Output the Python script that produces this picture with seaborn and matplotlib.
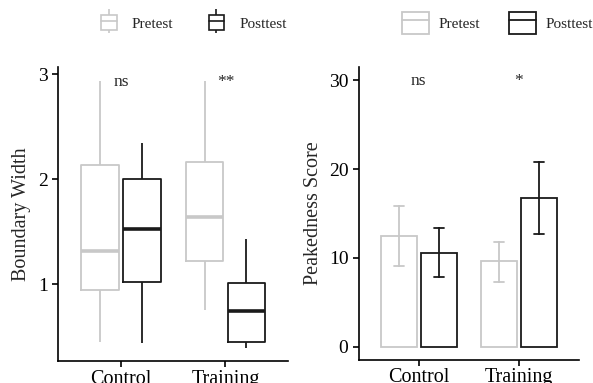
import numpy as np
import pandas as pd
import seaborn as sns
import matplotlib.pyplot as plt
from matplotlib.lines import Line2D
from matplotlib.patches import Patch
from matplotlib.legend_handler import HandlerTuple

# data
groups = ["Control", "Training"]
times = ["Pretest", "Posttest"]

# boundary width: [low whisker, Q1, median, Q3, high whisker]
bw_control_pre = [0.45, 0.94, 1.32, 2.14, 2.94]
bw_control_post = [0.44, 1.02, 1.53, 2.00, 2.35]
bw_training_pre = [0.75, 1.22, 1.64, 2.16, 2.94]
bw_training_post = [0.39, 0.45, 0.74, 1.01, 1.43]

# peakedness: [lower error, mean, upper error]
pk_control_pre = [9.1, 12.5, 15.8]
pk_control_post = [7.8, 10.6, 13.4]
pk_training_pre = [7.3, 9.6, 11.8]
pk_training_post = [12.7, 16.8, 20.8]

sig_bw = ["ns", "**"]
sig_pk = ["ns", "*"]

grey = "#c8c8c8"
dark = "#1a1a1a"
pal = {"Pretest": grey, "Posttest": dark}

rows = []
for g, t, vals in [("Control", "Pretest", bw_control_pre), ("Control", "Posttest", bw_control_post),
                   ("Training", "Pretest", bw_training_pre), ("Training", "Posttest", bw_training_post)]:
    for v in vals:
        rows.append({"group": g, "time": t, "value": v})
bw = pd.DataFrame(rows)

rows = []
for g, t, vals in [("Control", "Pretest", pk_control_pre), ("Control", "Posttest", pk_control_post),
                   ("Training", "Pretest", pk_training_pre), ("Training", "Posttest", pk_training_post)]:
    for v in vals:
        rows.append({"group": g, "time": t, "value": v})
pk = pd.DataFrame(rows)

sns.set_style("ticks")
plt.rcParams["font.family"] = ["Liberation Serif", "DejaVu Serif"]

fig = plt.figure(figsize=(5.93, 3.83), dpi=100)
ax1 = fig.add_axes([0.098, 0.057, 0.388, 0.768])
ax2 = fig.add_axes([0.605, 0.060, 0.371, 0.765])

# left: boxplots
sns.boxplot(data=bw, x="group", y="value", hue="time", order=groups, hue_order=times,
            palette=pal, fill=False, width=0.8, gap=0.1, whis=(0, 100), showcaps=False,
            linewidth=1.3, medianprops={"linewidth": 2.6}, legend=False, ax=ax1)
for i, s in enumerate(sig_bw):
    ax1.text(i, 2.93, s, ha="center", va="center", fontsize=12.5)
ax1.set_ylim(0.265, 3.07)
ax1.set_yticks([1, 2, 3])
ax1.set_ylabel("Boundary Width", fontsize=14.5, labelpad=5)

# right: bars with error bars
sns.barplot(data=pk, x="group", y="value", hue="time", order=groups, hue_order=times,
            palette=pal, fill=False, width=0.8, gap=0.1, estimator="median",
            errorbar=lambda v: (v.min(), v.max()), capsize=0.2, linewidth=1.3,
            err_kws={"linewidth": 1.3}, legend=False, ax=ax2)
for i, s in enumerate(sig_pk):
    ax2.text(i, 29.9, s, ha="center", va="center", fontsize=12.5)
ax2.set_ylim(-1.5, 31.5)
ax2.set_yticks([0, 10, 20, 30])
ax2.set_ylabel("Peakedness Score", fontsize=14.5, labelpad=4)

for ax in (ax1, ax2):
    ax.set_xlim(-0.6, 1.6)
    ax.set_xlabel("")
    sns.despine(ax=ax)
    for sp in ("left", "bottom"):
        ax.spines[sp].set_linewidth(1.2)
        ax.spines[sp].set_color("black")
    ax.tick_params(axis="both", length=4, width=1.2, color="black", labelsize=14, labelcolor="black")
    ax.tick_params(axis="x", labelsize=14.5, pad=2)

# legends
h_box = [(Line2D([], [], color=c, marker="|", linestyle="none", markersize=17.5, markeredgewidth=1.2),
          Patch(facecolor="white", edgecolor=c, linewidth=1.2),
          Line2D([], [], color=c, linewidth=1.2)) for c in (grey, dark)]
fig.legend(h_box, times, loc="center", bbox_to_anchor=(0.327, 0.94), ncol=2, frameon=False,
           handler_map={tuple: HandlerTuple(ndivide=1)}, fontsize=11,
           handlelength=1.0, handleheight=1.1, columnspacing=2.3, handletextpad=1.0)

h_bar = [(Patch(facecolor="white", edgecolor=c, linewidth=1.3),
          Line2D([], [], color=c, linewidth=1.3)) for c in (grey, dark)]
fig.legend(h_bar, times, loc="center", bbox_to_anchor=(0.839, 0.94), ncol=2, frameon=False,
           handler_map={tuple: HandlerTuple(ndivide=1)}, fontsize=11,
           handlelength=1.75, handleheight=1.8, columnspacing=1.9, handletextpad=0.65)

fig.savefig("out.png", dpi=100)
